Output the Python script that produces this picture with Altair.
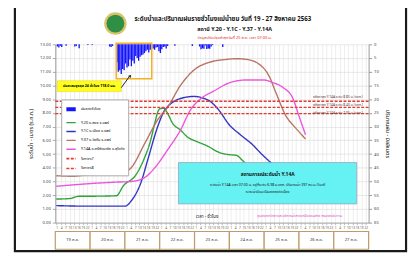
import altair as alt
import pandas as pd

FONT = "Noto Sans Thai, Noto Sans, DejaVu Sans, sans-serif"

# ---------------- data ----------------
days = ["19 ส.ค.", "20 ส.ค.", "21 ส.ค.", "22 ส.ค.", "23 ส.ค.",
        "24 ส.ค.", "25 ส.ค.", "26 ส.ค.", "27 ส.ค."]

series_names = ["ฝนรายชั่วโมง", "Y.20 อ.สอง จ.แพร่", "Y.1C อ.เมือง จ.แพร่",
                "Y.37 อ.วังชิ้น จ.แพร่", "Y.14A อ.ศรีสัชนาลัย จ.สุโขทัย",
                "Series7", "Series8"]

rain_hour = [1, 2, 3, 4, 7, 13, 14, 16, 22, 25, 37, 38, 39,
             42, 43, 44, 45, 46, 47, 48, 49, 50, 51, 52, 53, 54, 55, 56, 57,
             58, 59, 60, 61, 62, 63, 64, 65,
             67, 68, 69, 70, 71, 72, 73, 74, 75, 76, 77,
             82, 94, 99, 100, 101, 102, 103, 104, 105, 106, 107, 108, 115]
rain_mm = [0.8, 1.2, 0.5, 1.0, 0.5, 0.8, 0.6, 1.4, 0.3, 0.3, 0.8, 1.0, 0.6,
           6.5, 10.0, 9.5, 10.8, 9.0, 9.5, 7.0, 8.5, 8.0, 5.5, 8.0, 6.0, 7.0, 4.3,
           5.0, 6.0, 4.5, 4.0, 3.7, 3.2, 2.5, 2.0, 3.0, 2.0,
           1.5, 2.0, 1.2, 1.0, 2.5, 3.2, 1.8, 1.0, 0.8, 1.5, 0.6,
           0.5, 0.6, 0.8, 1.8, 1.5, 1.6, 0.4, 1.7, 1.5, 1.6, 0.8, 0.3, 1.0]

y20_hour = [0.7, 9.5, 16.3, 29.9, 42.1, 46.9, 55.7, 61.8, 65.2, 68.6, 70.6, 72.0,
            74.7, 77.4, 80.8, 86.3, 91.0, 97.8, 104.6, 113.4, 119.5, 125.0, 128.4, 131.8]
y20_level = [1.72, 1.75, 1.92, 1.93, 1.96, 2.68, 3.5, 4.8, 5.8, 7.25, 8.05, 8.3,
             8.33, 7.97, 7.25, 6.75, 6.25, 5.9, 5.6, 5.1, 4.96, 4.9, 4.6, 4.24]

y1c_hour = [0.7, 22.4, 48.2, 52.3, 59.1, 63.8, 70.6, 75.4, 77.4, 86.3, 95.8,
            101.2, 106.6, 112.0, 120.2, 127.7, 135.8, 142.6, 149.4]
y1c_level = [1.24, 1.2, 1.2, 1.58, 2.94, 4.6, 7.0, 8.2, 8.45, 9.05, 9.2,
             9.1, 8.85, 8.3, 7.1, 6.4, 5.7, 4.96, 4.3]

y37_hour = [0.7, 12, 20, 30, 42, 45.5, 52.3, 61.8, 70.6, 77.4, 86.3, 96.5,
            106.6, 118.2, 125, 131.8, 140.5, 147.3, 152, 158.9, 165.7, 172.5]
y37_level = [3.42, 3.38, 3.45, 3.5, 3.5, 3.55, 4.0, 5.8, 7.5, 8.4, 10.0, 11.2,
             11.7, 11.9, 11.95, 11.9, 11.55, 10.7, 9.5, 7.8, 6.9, 6.1]

y14a_hour = [0.7, 18, 41, 52.3, 61.8, 68.6, 77.4, 86.3, 93.1, 99.9, 109.4,
             120.2, 131.8, 143.4, 150.2, 157, 163.8, 167.9, 172.5]
y14a_level = [2.65, 2.8, 2.95, 3.0, 3.3, 4.0, 5.3, 6.75, 8.2, 9.0, 9.6,
              10.2, 10.4, 10.4, 10.2, 9.85, 9.05, 7.8, 6.4]

bank_levels = [8.85, 8.40, 7.95]
bank_labels = ["ตลิ่งต่ำสุด Y.14A ระดับ 8.85 ม. (รทก.)",
               "ตลิ่งต่ำสุด Y.14A ระดับ 8.40 ม. (รทก.)",
               "ตลิ่งต่ำสุด Y.14A ระดับ 7.95 ม. (รทก.)"]

# ---------------- tables ----------------
rain_df = pd.DataFrame({"h": rain_hour, "mm": rain_mm})
rain_df["h2"] = rain_df["h"] + 0.9

rows = []
for name, hs, vs in [(series_names[1], y20_hour, y20_level),
                     (series_names[2], y1c_hour, y1c_level),
                     (series_names[3], y37_hour, y37_level),
                     (series_names[4], y14a_hour, y14a_level)]:
    for h, v in zip(hs, vs):
        rows.append({"series": name, "hour": h, "level": v})
lines_df = pd.DataFrame(rows)

day_df = pd.DataFrame({"day": days,
                       "start": [i * 24 for i in range(len(days))],
                       "end": [(i + 1) * 24 for i in range(len(days))]})
day_df["mid"] = (day_df["start"] + day_df["end"]) / 2

bank_df = pd.DataFrame({"v": bank_levels})

# ---------------- scales / axes ----------------
xs = alt.Scale(domain=[0, 216], nice=False, zero=False)
lvl_scale = alt.Scale(domain=[0, 13], nice=False, zero=True)
rain_scale = alt.Scale(domain=[0, 65], reverse=True, nice=False, zero=True)

tick_hours = [d * 24 + h for d in range(9) for h in (1, 4, 7, 10, 13, 16, 19, 22)]
xaxis = alt.Axis(values=tick_hours, labelExpr="datum.value % 24", labelFontSize=3.2,
                 labelColor="#555", tickSize=2, tickColor="#bbb", domainColor="#aaa",
                 gridColor="#dcdcdc", gridWidth=0.5, title=None, labelPadding=1,
                 labelOverlap=False, labelFlush=False)

left_axis = alt.Axis(orient="left", values=list(range(14)), format=".2f",
                     labelFontSize=4.3, labelColor="#444", tickSize=3, tickColor="#aaa",
                     domainColor="#999", gridColor="#d8d8d8", gridWidth=0.6, grid=True,
                     title="ระดับน้ำ - เมตร (ร.ท.ก.)", titleFontSize=5.5,
                     titleFontWeight="normal", titlePadding=6, labelPadding=2)

right_axis = alt.Axis(orient="right", values=list(range(0, 70, 5)),
                      labelFontSize=4.3, labelColor="#444", tickSize=3, tickColor="#999",
                      domainColor="#999", grid=False,
                      title="ปริมาณฝน - มิลลิเมตร", titleFontSize=5.5,
                      titleFontWeight="normal", titlePadding=6, labelPadding=2)

legend = alt.Legend(title=None, orient="none", legendX=6, legendY=56,
                    fillColor="white", strokeColor="#aaa", padding=3,
                    labelFontSize=3.8, symbolSize=90, symbolType="stroke",
                    rowPadding=0, labelLimit=100, labelOffset=3)

colors = ["#1414ff", "#2fa33a", "#3434c4", "#b87464", "#ee55dd", "#e33a30", "#e33a30"]
dashes = [[1, 0], [1, 0], [1, 0], [1, 0], [1, 0], [3, 1.5], [3, 1.5]]
widths = [4, 1.4, 1.4, 1.4, 1.4, 1.6, 1.6]

# ---------------- layers ----------------
rain = alt.Chart(rain_df).mark_bar(color="#1414ff").encode(
    x=alt.X("h:Q", scale=xs, axis=xaxis),
    x2="h2:Q",
    y=alt.Y("mm:Q", scale=rain_scale, axis=right_axis),
    y2=alt.datum(0),
)

lines = alt.Chart(lines_df).mark_line(interpolate="monotone").encode(
    x=alt.X("hour:Q", scale=xs, axis=xaxis),
    y=alt.Y("level:Q", scale=lvl_scale, axis=left_axis),
    color=alt.Color("series:N", scale=alt.Scale(domain=series_names, range=colors), legend=legend),
    strokeDash=alt.StrokeDash("series:N", scale=alt.Scale(domain=series_names, range=dashes), legend=legend),
    strokeWidth=alt.StrokeWidth("series:N",
                                scale=alt.Scale(type="ordinal", domain=series_names, range=widths),
                                legend=legend),
)

banks = alt.Chart(bank_df).mark_rule(color="#e33a30", strokeDash=[3, 1.5], strokeWidth=1.4).encode(
    y=alt.Y("v:Q", scale=lvl_scale, axis=None)
)

one = pd.DataFrame({"k": [0]})

highlight = alt.Chart(one).mark_rect(fillOpacity=0, stroke="#f2b21e", strokeWidth=1.5).encode(
    x=alt.XDatum(42, scale=xs, axis=xaxis),
    x2=alt.X2Datum(66.5),
    y=alt.value(-1),
    y2=alt.value(35),
)


def label(text, x, y, size, color="#000", weight="normal", align="center", angle=0):
    return alt.Chart(pd.DataFrame({"t": [text]})).mark_text(
        x=x, y=y, fontSize=size, color=color, fontWeight=weight, align=align,
        baseline="middle", angle=angle, font=FONT
    ).encode(text="t:N")


def box(x1, x2, y1, y2, fill, stroke, sw=0.8):
    return alt.Chart(one).mark_rect(fill=fill, stroke=stroke, strokeWidth=sw).encode(
        x=alt.value(x1), x2=alt.value(x2), y=alt.value(y1), y2=alt.value(y2))


yellow = box(2, 67, 37, 48, "#ffff1e", "#e8d000", 0.5)
yellow_txt = label("ฝนสะสมสูงสุด 24 ชั่วโมง 118.0 มม.", 34.5, 42.5, 3.6, "#000", "bold")
arrow = alt.Chart(one).mark_rule(color="#222", strokeWidth=1).encode(
    x=alt.value(67), y=alt.value(44), x2=alt.value(75), y2=alt.value(33))
arrow_head = alt.Chart(one).mark_point(shape="triangle-up", filled=True, color="#222",
                                       size=12, angle=36, opacity=1).encode(
    x=alt.value(76), y=alt.value(32))

cyan = box(125, 306, 120, 162, "#66f2f2", "#99b", 0.7)
cyan_t1 = label("สถานการณ์ระดับน้ำ Y.14A", 215.5, 132, 5, "#111", "bold")
cyan_t2 = label("ระดับน้ำ Y.14A เวลา 07:00 น. อยู่ที่ระดับ 6.98 ม.รทก. ปริมาณน้ำ 397 ลบ.ม./วินาที",
                215.5, 142.5, 3.6, "#111")
cyan_t3 = label("ระดับน้ำมีแนวโน้มลดลงต่อเนื่อง", 215.5, 150, 3.6, "#111")

bank_txt = [label(t, 312, y, 3.3, "#5a3030", "normal", "right")
            for t, y in zip(bank_labels, [54, 62, 70])]

time_txt = label("เวลา - ชั่วโมง", 154, 175, 4.5, "#222")
credit_txt = label("ศูนย์อุทกวิทยาและบริหารน้ำภาคเหนือตอนล่าง กรมชลประทาน", 248, 174, 3.6, "#e040c0")

day_boxes = alt.Chart(day_df).mark_rect(fill="white", stroke="#c09a6a", strokeWidth=1.2).encode(
    x=alt.X("start:Q", scale=xs, axis=xaxis), x2="end:Q",
    y=alt.value(190), y2=alt.value(208))
day_text = alt.Chart(day_df).mark_text(fontSize=4.2, color="#333", font=FONT).encode(
    x=alt.X("mid:Q", scale=xs, axis=xaxis), y=alt.value(199), text="day:N")

title1 = label("ระดับน้ำและปริมาณฝนรายชั่วโมงแม่น้ำยม วันที่ 19 - 27 สิงหาคม 2563",
               170, -26, 6.2, "#111", "bold")
title2 = label("สถานี Y.20 - Y.1C - Y.37 - Y.14A", 182, -15, 5.5, "#111", "bold")
title3 = label("ข้อมูลปรับปรุงล่าสุดวันที่ 25 ส.ค. เวลา 07:00 น.", 182, -6, 4, "#e03030")

logo_outer = alt.Chart(one).mark_circle(size=520, color="#d9c46a", opacity=1).encode(
    x=alt.value(61), y=alt.value(-21))
logo_inner = alt.Chart(one).mark_circle(size=330, color="#2f8f45", opacity=1).encode(
    x=alt.value(61), y=alt.value(-21))

frame = alt.Chart(one).mark_rect(fillOpacity=0, stroke="#1a1a1a", strokeWidth=2.2).encode(
    x=alt.value(-41), x2=alt.value(356), y=alt.value(-39), y2=alt.value(210))

chart = alt.layer(
    rain, lines, banks, highlight,
    yellow, yellow_txt, arrow, arrow_head,
    cyan, cyan_t1, cyan_t2, cyan_t3,
    *bank_txt, time_txt, credit_txt,
    day_boxes, day_text,
    title1, title2, title3, logo_outer, logo_inner, frame,
).resolve_scale(
    y="independent"
).properties(
    width=318, height=181,
    autosize=alt.AutoSizeParams(type="none"),
    padding={"left": 48, "top": 35, "right": 42, "bottom": 30},
    background="white",
).configure_view(
    stroke=None
).configure_axis(
    labelFont=FONT, titleFont=FONT
).configure_legend(
    labelFont=FONT
)

chart.save("out.html", embed_options={"renderer": "svg", "actions": False})
